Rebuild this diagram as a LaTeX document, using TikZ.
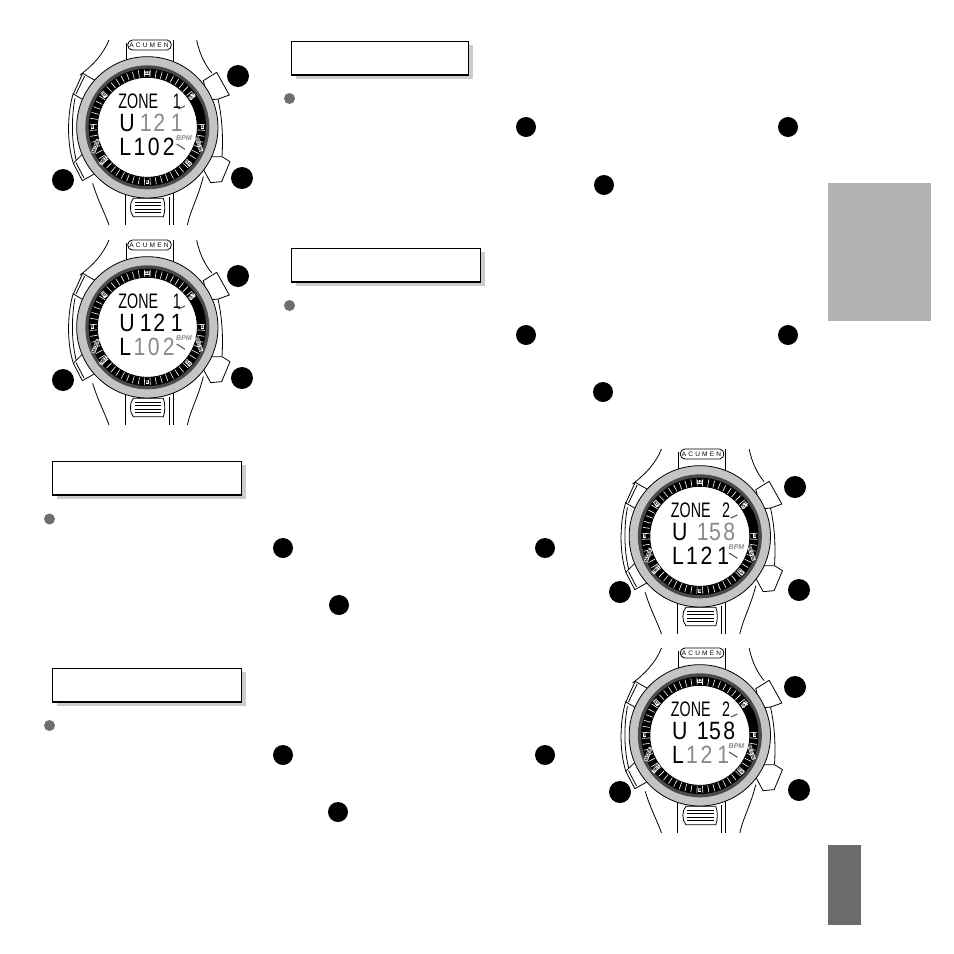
\documentclass[tikz,border=0pt]{standalone}
\usepackage{fontspec}
\setmainfont{Liberation Sans}
\definecolor{lcdgray}{HTML}{8A8A8A}
\definecolor{bezel}{HTML}{C4C4C4}
\definecolor{ringdark}{HTML}{4A4A4A}
\definecolor{shade}{HTML}{CCCCCC}
\definecolor{bulletgray}{HTML}{6E6E6E}
\definecolor{sidelight}{HTML}{B3B3B3}
\definecolor{sidedark}{HTML}{6B6B6B}
\tikzset{
  keydot/.style={circle,fill=black,inner sep=0pt,minimum size=22pt},
  textdot/.style={circle,fill=black,inner sep=0pt,minimum size=20pt},
  bulletdot/.style={circle,fill=bulletgray,inner sep=0pt,minimum size=11pt},
  titlebox/.style={draw=black,line width=1pt,fill=white,inner sep=0pt,anchor=north west,minimum height=33pt},
  shadowbox/.style={fill=shade,inner sep=0pt,anchor=north west,minimum height=34pt},
  wline/.style={line width=0.8pt,black},
  ringlabel/.style={fill=white,inner sep=0.4pt,font=\fontsize{4.5}{4.5}\selectfont\bfseries},
  segtext/.style={anchor=base west,inner sep=0pt,xscale=.85,transform shape},
  headtext/.style={anchor=base west,inner sep=0pt,xscale=.68,transform shape},
  lcdtick/.style={line width=1.1pt,black!65}
}
% row of the display: y, letter, letter gap, colour, d1, k1, d2, k2, d3
\newcommand{\lcdrow}[9]{%
  \node[segtext] at (-84,#1) {\fontsize{25}{25}\selectfont #2 \kern\dimexpr#3pt-6.95pt\relax\textcolor{#4}{#5\kern#6pt #7\kern#8pt #9}};}
\newcommand{\lcdhead}[2]{%
  \node[headtext] at (-87,-45) {\fontsize{21}{21}\selectfont ZONE\hspace{#2pt} #1};
  \draw[lcdtick] (93,-43) -- (113,-52);
  \draw[lcdtick] (88,62) -- (113,78);
  \node[inner sep=0pt,text=lcdgray] at (110,45) {\fontsize{7}{7}\selectfont\bfseries\itshape BPM};}
\newcommand{\wristwatch}[3]{%
\begin{scope}[shift={(#1,#2)},x=0.3333pt,y=-0.3333pt]
  % strap, top
  \draw[wline] (207,30) .. controls (190,72) and (160,105) .. (120,135);
  \draw[wline] (470,30) .. controls (478,70) and (495,105) .. (515,128);
  \draw[wline] (258,40) -- (258,95);
  \draw[wline] (400,30) -- (400,95);
  \draw[wline,fill=white] (278,30) -- (382,30) .. controls (398,33) and (398,57) .. (382,60) -- (278,60) .. controls (258,57) and (258,33) .. (278,30) -- cycle;
  \node[inner sep=0pt] at (327,45) {\fontsize{6.5}{6.5}\selectfont A\,\,C\,\,U\,\,M\,\,E\,\,N};
  % strap, bottom
  \draw[wline] (158,460) .. controls (175,515) and (195,550) .. (207,585);
  \draw[wline] (490,440) .. controls (475,500) and (450,545) .. (442,585);
  \draw[wline] (255,490) -- (255,585);
  \draw[wline] (400,490) -- (400,585);
  \draw[wline] (388,500) -- (388,585);
  \draw[wline,fill=white] (280,505) -- (370,505) .. controls (376,520) and (376,545) .. (370,560) -- (280,560) .. controls (268,545) and (268,520) .. (280,505) -- cycle;
  \draw[wline] (284,518) -- (364,518) (284,527) -- (364,527) (284,537) -- (364,537) (284,547) -- (364,547);
  % case side lines and pushers
  \draw[wline] (100,190) .. controls (84,240) and (78,330) .. (100,400);
  \draw[wline] (105,205) .. controls (94,260) and (94,340) .. (110,395);
  \draw[wline,fill=white] (100,192) -- (128,130) -- (172,155) -- (140,215) -- cycle;
  \draw[wline] (108,192) -- (134,138);
  \draw[wline,fill=white] (100,400) -- (127,452) -- (170,428) -- (130,370) -- cycle;
  \draw[wline] (108,398) -- (132,444);
  \draw[wline] (534,207) .. controls (546,260) and (550,320) .. (546,380);
  \draw[wline,fill=white] (490,152) -- (530,127) -- (568,195) -- (535,207) -- (505,210) -- cycle;
  \draw[wline,fill=white] (490,418) -- (512,458) -- (545,455) -- (570,395) -- (546,380) -- (515,380) -- cycle;
  \begin{scope}[shift={(322,292)}]
    \draw[wline,fill=bezel] (0,0) circle[radius=212];
    \fill[ringdark] (0,0) circle[radius=186];
    \fill[black] (0,0) circle[radius=176];
    \foreach \a in {3,9,...,357}
      \draw[white,line width=0.6pt] (\a:150) -- (\a:173);
    \draw[black,line width=9pt] (-28:163) arc[radius=163,start angle=-28,end angle=-8];
    \fill[white] (0,0) circle[radius=150];
    \draw[wline] (0,0) circle[radius=150];
    \node[ringlabel] at (0,-164) {12};
    \node[ringlabel] at (0,163) {6};
    \node[ringlabel] at (165,0) {3};
    \node[ringlabel] at (-165,0) {9};
    \node[ringlabel,rotate=55] at (-35:163) {ST};
    \node[ringlabel,rotate=-72] at (18:163) {BEGIN};
    \node[ringlabel,rotate=-48] at (41:163) {SP};
    \node[ringlabel,rotate=-55] at (217:163) {ST};
    \node[ringlabel,rotate=70] at (160:165) {MODE};
    \node[ringlabel,rotate=52] at (143:165) {SET};
  \end{scope}
  \begin{scope}[shift={(322,280)}]
    #3
  \end{scope}
\end{scope}}
\begin{document}
\begin{tikzpicture}[x=1pt,y=-1pt]
\useasboundingbox (0,0) rectangle (954,954);
\fill[white] (0,0) rectangle (954,954);
% side tabs
\fill[sidelight] (828,183) rectangle (931,321);
\fill[sidedark] (828,845) rectangle (861,925);
% title boxes
\node[shadowbox,minimum width=177pt] (s1) at (296,45) {};
\node[titlebox,minimum width=177pt] (t1) at (291,41) {};
\node[shadowbox,minimum width=189pt] (s2) at (296,252) {};
\node[titlebox,minimum width=189pt] (t2) at (291,248) {};
\node[shadowbox,minimum width=189pt] (s3) at (57,465) {};
\node[titlebox,minimum width=189pt] (t3) at (52,461) {};
\node[shadowbox,minimum width=189pt] (s4) at (57,672) {};
\node[titlebox,minimum width=189pt] (t4) at (52,668) {};
\foreach \b in {t1,t2,t3,t4}
  \draw[line width=2pt] (\b.south west) -- (\b.south east);
% bullets
\node[bulletdot] (b1) at (289.5,98.5) {};
\node[bulletdot] (b2) at (289.5,305.5) {};
\node[bulletdot] (b3) at (49.5,519) {};
\node[bulletdot] (b4) at (49.5,725.5) {};
% watches
\wristwatch{40}{30}{\lcdhead{1}{15.8}\lcdrow{25}{U}{6.0}{lcdgray}{1}{1.8}{2}{6.9}{1}\lcdrow{98}{L}{2.6}{black}{1}{3}{0}{3.8}{2}}
\wristwatch{40}{230}{\lcdhead{1}{15.8}\lcdrow{25}{U}{6.0}{black}{1}{1.8}{2}{6.9}{1}\lcdrow{98}{L}{2.6}{lcdgray}{1}{3}{0}{3.8}{2}}
\wristwatch{592.5}{439}{\lcdhead{2}{10.9}\lcdrow{25}{U}{11.1}{lcdgray}{1}{0.6}{5}{3}{8}\lcdrow{98}{L}{2.6}{black}{1}{3.4}{2}{5.7}{1}}
\wristwatch{592.5}{638}{\lcdhead{2}{10.9}\lcdrow{25}{U}{11.1}{black}{1}{0.6}{5}{3}{8}\lcdrow{98}{L}{2.6}{lcdgray}{1}{3.4}{2}{5.7}{1}}
% key dots
\node[keydot] (k1) at (238,76) {};
\node[keydot] (k2) at (63,180) {};
\node[keydot] (k3) at (242,178) {};
\node[keydot] (k4) at (238,276) {};
\node[keydot] (k5) at (63,380) {};
\node[keydot] (k6) at (242,378) {};
\node[keydot] (k7) at (795,487) {};
\node[keydot] (k8) at (620,592) {};
\node[keydot] (k9) at (799,590) {};
\node[keydot] (k10) at (795,687) {};
\node[keydot] (k11) at (620,792) {};
\node[keydot] (k12) at (799,790) {};
\node[textdot] (p1) at (526,127) {};
\node[textdot] (p2) at (788,127) {};
\node[textdot] (p3) at (604,185) {};
\node[textdot] (p4) at (526,335) {};
\node[textdot] (p5) at (788,335) {};
\node[textdot] (p6) at (603,392) {};
\node[textdot] (p7) at (283,548) {};
\node[textdot] (p8) at (545,548) {};
\node[textdot] (p9) at (339,605) {};
\node[textdot] (p10) at (283,755) {};
\node[textdot] (p11) at (545,755) {};
\node[textdot] (p12) at (338,812) {};
\end{tikzpicture}
\end{document}
